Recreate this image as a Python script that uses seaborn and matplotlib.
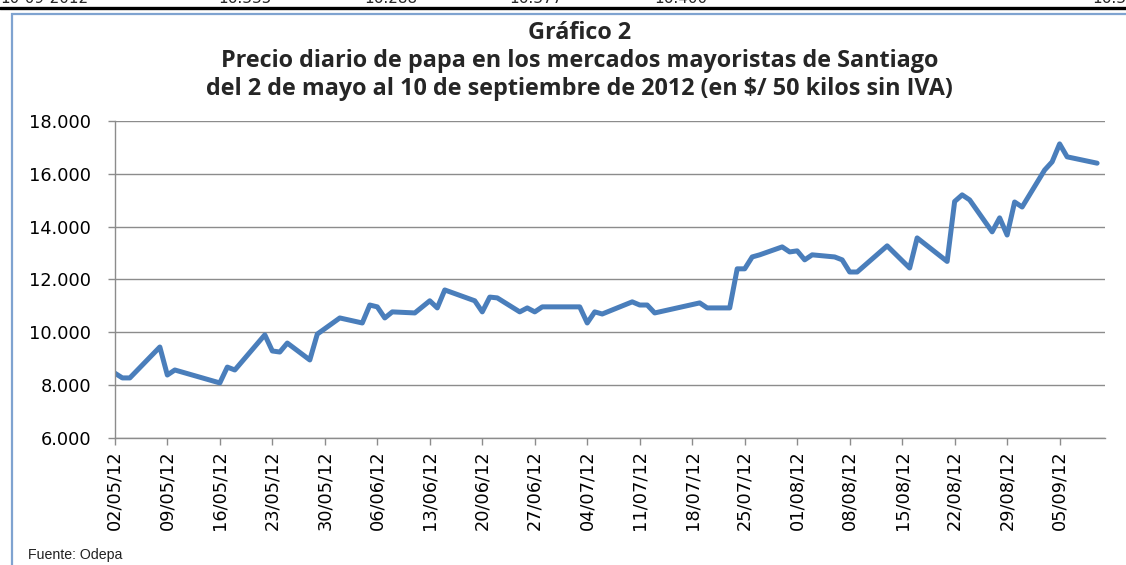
import pandas as pd
import seaborn as sns
import matplotlib.pyplot as plt
import matplotlib.dates as mdates
from matplotlib.ticker import FuncFormatter, MultipleLocator
from matplotlib.patches import Rectangle
from matplotlib.lines import Line2D

# Daily prices ($ / 50 kg, sin IVA)
fechas = [
    "2012-05-02", "2012-05-03", "2012-05-04", "2012-05-08", "2012-05-09", "2012-05-10",
    "2012-05-16", "2012-05-17", "2012-05-18", "2012-05-22", "2012-05-23", "2012-05-24",
    "2012-05-25", "2012-05-28", "2012-05-29", "2012-06-01", "2012-06-04", "2012-06-05",
    "2012-06-06", "2012-06-07", "2012-06-08", "2012-06-11", "2012-06-13", "2012-06-14",
    "2012-06-15", "2012-06-19", "2012-06-20", "2012-06-21", "2012-06-22", "2012-06-25",
    "2012-06-26", "2012-06-27", "2012-06-28", "2012-07-03", "2012-07-04", "2012-07-05",
    "2012-07-06", "2012-07-10", "2012-07-11", "2012-07-12", "2012-07-13", "2012-07-19",
    "2012-07-20", "2012-07-23", "2012-07-24", "2012-07-25", "2012-07-26", "2012-07-27",
    "2012-07-30", "2012-07-31", "2012-08-01", "2012-08-02", "2012-08-03", "2012-08-06",
    "2012-08-07", "2012-08-08", "2012-08-09", "2012-08-13", "2012-08-16", "2012-08-17",
    "2012-08-21", "2012-08-22", "2012-08-23", "2012-08-24", "2012-08-27", "2012-08-28",
    "2012-08-29", "2012-08-30", "2012-08-31", "2012-09-03", "2012-09-04", "2012-09-05",
    "2012-09-06", "2012-09-10",
]
precios = [
    8450, 8270, 8270, 9440, 8380, 8570,
    8080, 8680, 8570, 9900, 9290, 9250,
    9590, 8950, 9930, 10540, 10350, 11030,
    10960, 10540, 10770, 10730, 11190, 10920,
    11600, 11190, 10770, 11330, 11300, 10770,
    10920, 10770, 10960, 10960, 10350, 10770,
    10690, 11150, 11030, 11030, 10730, 11110,
    10920, 10920, 12400, 12400, 12850, 12930,
    13230, 13040, 13080, 12740, 12930, 12850,
    12740, 12280, 12280, 13270, 12430, 13570,
    12680, 14950, 15200, 15010, 13800, 14330,
    13680, 14930, 14740, 16140, 16450, 17130,
    16640, 16400,
]

# Cut-off row of the table above the chart
fila_superior = ["10-09-2012", "16.335", "16.288", "16.377", "16.400", "16.3"]

titulo = ("Gráfico 2\n"
          "Precio diario de papa en los mercados mayoristas de Santiago\n"
          "del 2 de mayo al 10 de septiembre de 2012 (en $/ 50 kilos sin IVA)")

df = pd.DataFrame({"fecha": pd.to_datetime(fechas), "precio": precios})

sns.set_theme(style="white")
plt.rcParams["font.family"] = ["DejaVu Sans"]

fig = plt.figure(figsize=(11.26, 5.65), dpi=100)
ax = fig.add_axes([0.102, 0.225, 0.879, 0.561])

sns.lineplot(data=df, x="fecha", y="precio", ax=ax, color="#4A7EBB", linewidth=3.6)

ax.set_ylim(6000, 18000)
ax.yaxis.set_major_locator(MultipleLocator(2000))
ax.yaxis.set_major_formatter(FuncFormatter(lambda v, p: f"{v:,.0f}".replace(",", ".")))
ax.set_xlim(pd.Timestamp("2012-05-02"), pd.Timestamp("2012-09-11"))
ax.set_xticks(pd.date_range("2012-05-02", "2012-09-05", freq="7D"))
ax.xaxis.set_major_formatter(mdates.DateFormatter("%d/%m/%y"))
ax.set_xlabel("")
ax.set_ylabel("")

ax.grid(axis="y", color="#8C8C8C", linewidth=1.0)
ax.grid(axis="x", visible=False)
for s in ["top", "right"]:
    ax.spines[s].set_visible(False)
for s in ["left", "bottom"]:
    ax.spines[s].set_color("#8C8C8C")
    ax.spines[s].set_linewidth(1.0)
ax.tick_params(axis="both", which="major", length=5, width=1, color="#8C8C8C",
               direction="out", bottom=True, left=True, labelsize=12.8, labelcolor="black")
ax.tick_params(axis="y", pad=12)
ax.tick_params(axis="x", pad=4)
plt.setp(ax.get_xticklabels(), rotation=90)

fig.text(0.515, 0.962, titulo, ha="center", va="top", fontsize=16.8, fontweight="bold",
         family="Open Sans", linespacing=1.22)
fig.text(0.025, 0.006, "Fuente: Odepa", ha="left", va="bottom", fontsize=10.2,
         family="Liberation Sans", color="#222222")

# frame of the embedded chart and line of the table above
fig.add_artist(Rectangle((0.0107, -0.1), 1.2, 1.076, transform=fig.transFigure,
                         fill=False, edgecolor="#7FA3D0", linewidth=1.6))
fig.add_artist(Line2D([0, 1], [0.985, 0.985], transform=fig.transFigure, color="black", linewidth=2.4))
xs_fila = [0.0, 0.218, 0.347, 0.476, 0.605, 1.0]
for i, t in enumerate(fila_superior):
    ha = "left" if i == 0 else ("right" if i == len(fila_superior) - 1 else "center")
    fig.text(xs_fila[i], 1.003, t, ha=ha, va="center", fontsize=11)

fig.savefig("out.png", dpi=100)
